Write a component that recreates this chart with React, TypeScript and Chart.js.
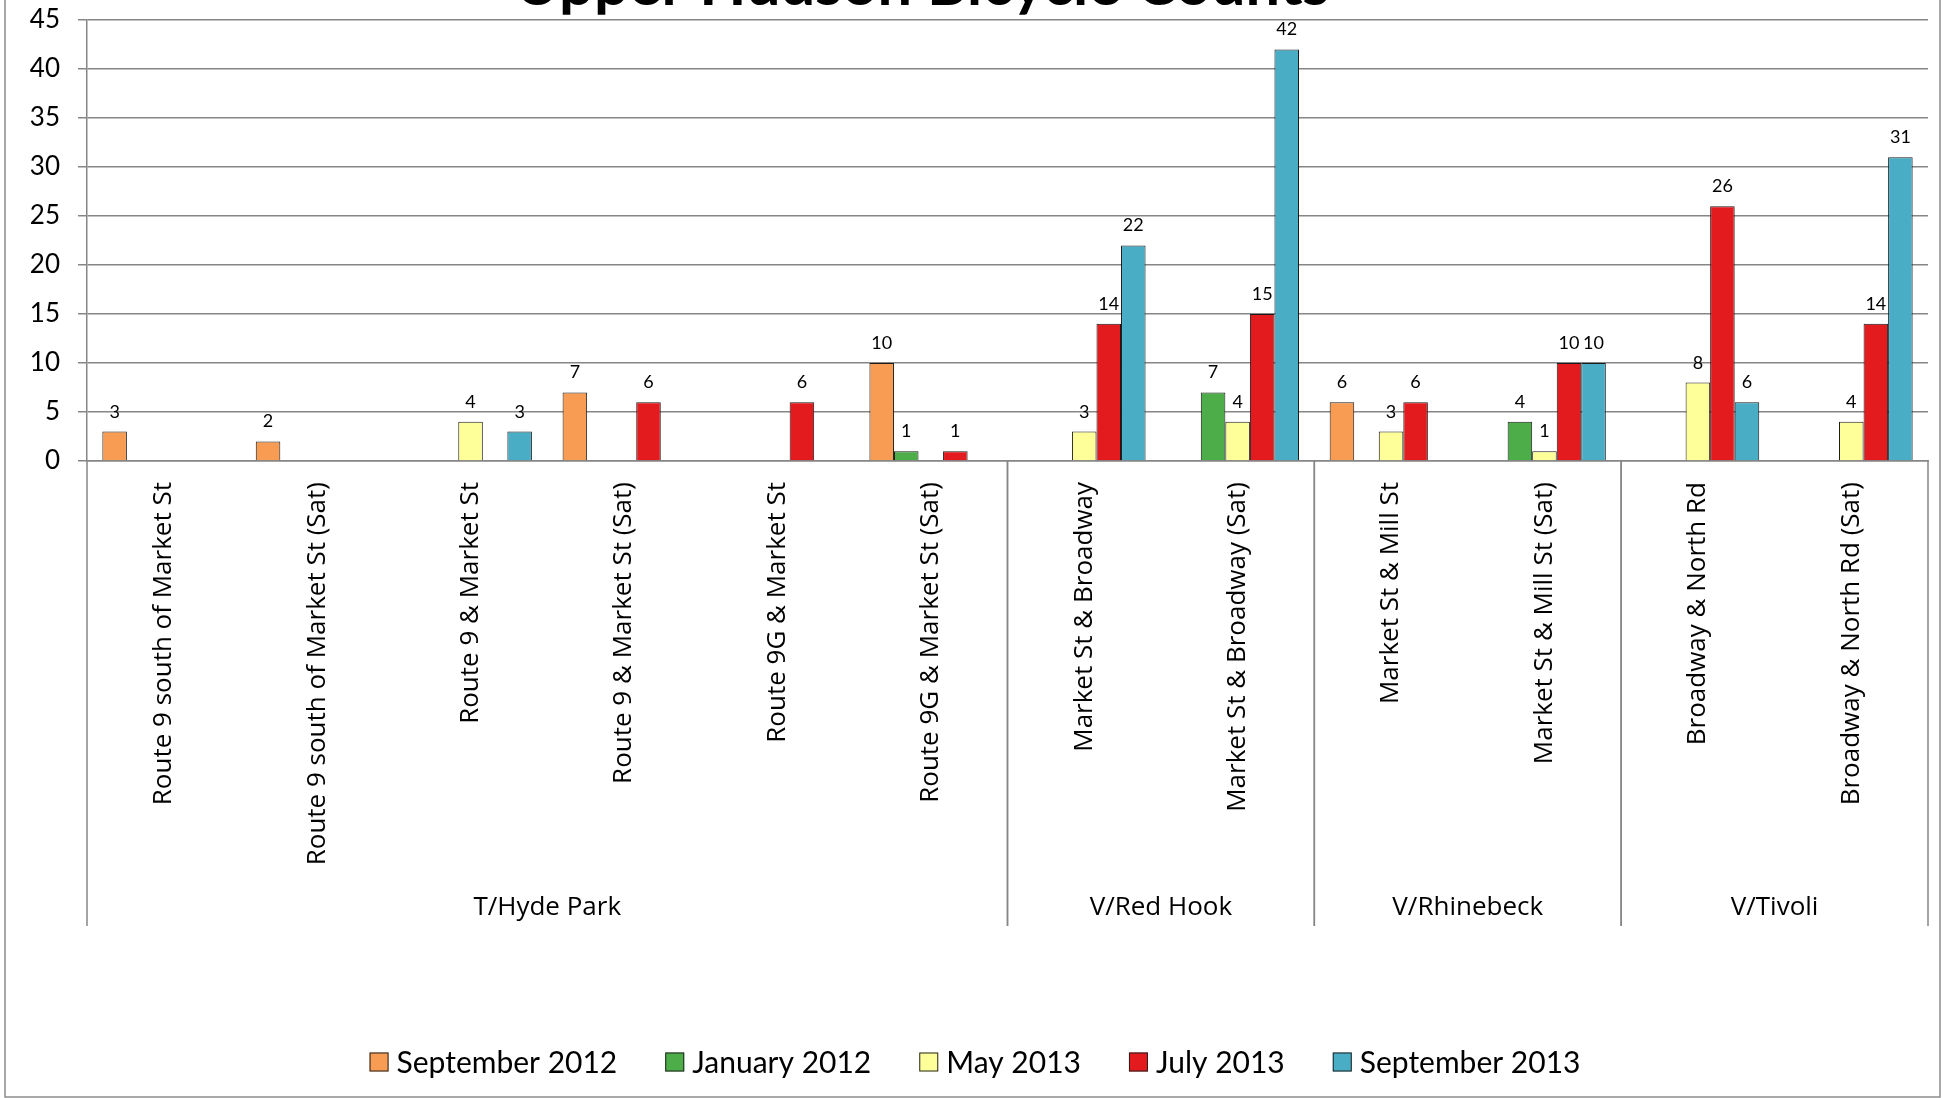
import React, { useEffect, useRef } from "react";
import { Chart, registerables } from "chart.js";

Chart.register(...registerables);

const categories = [
  "Route 9 south of Market St",
  "Route 9 south of Market St (Sat)",
  "Route 9 & Market St",
  "Route 9 & Market St (Sat)",
  "Route 9G & Market St",
  "Route 9G & Market St (Sat)",
  "Market St & Broadway",
  "Market St & Broadway (Sat)",
  "Market St & Mill St",
  "Market St & Mill St (Sat)",
  "Broadway & North Rd",
  "Broadway & North Rd (Sat)",
];
const groupNames = ["T/Hyde Park", "V/Red Hook", "V/Rhinebeck", "V/Tivoli"];
const groupSizes = [6, 2, 2, 2];

const seriesNames = ["September 2012", "January 2012", "May 2013", "July 2013", "September 2013"];
const sep2012 = [3, 2, null, 7, null, 10, null, null, 6, null, null, null];
const jan2012 = [null, null, null, null, null, 1, null, 7, null, 4, null, null];
const may2013 = [null, null, 4, null, null, null, 3, 4, 3, 1, 8, 4];
const jul2013 = [null, null, null, 6, 6, 1, 14, 15, 6, 10, 26, 14];
const sep2013 = [null, null, 3, null, null, null, 22, 42, null, 10, 6, 31];

const yMin = 0;
const yMax = 45;
const yStep = 5;

const titleText = "Upper Hudson Bicycle Counts";

const colors = ["#F79C52", "#4DAD48", "#FFFF99", "#E31B1F", "#4AADC6"];

const GRID = "#868686";
const LABEL_FONT = "Lato, 'Open Sans', sans-serif";
const CAT_FONT = "'Open Sans', sans-serif";

const overlayPlugin = {
  id: "overlay",
  afterDraw(chart: any) {
    const ctx = chart.ctx;
    const xs = chart.scales.x;
    const area = chart.chartArea;
    ctx.save();

    // data labels
    ctx.fillStyle = "#000";
    ctx.font = `18px ${LABEL_FONT}`;
    ctx.textAlign = "center";
    ctx.textBaseline = "alphabetic";
    chart.data.datasets.forEach((ds: any, di: number) => {
      const meta = chart.getDatasetMeta(di);
      meta.data.forEach((el: any, i: number) => {
        const v = ds.data[i];
        if (v === null || v === undefined) return;
        ctx.fillText(String(v), el.x, el.y - 14);
      });
    });

    // group separators and labels
    const sepBottom = 926;
    ctx.strokeStyle = GRID;
    ctx.lineWidth = 1.5;
    let start = 0;
    const boundaryX = (idx: number) => {
      if (idx <= 0) return area.left;
      if (idx >= categories.length) return area.right;
      return (xs.getPixelForValue(idx - 1) + xs.getPixelForValue(idx)) / 2;
    };
    ctx.font = `26px ${CAT_FONT}`;
    ctx.textBaseline = "middle";
    ctx.textAlign = "center";
    ctx.fillStyle = "#000";
    groupNames.forEach((g, gi) => {
      const x0 = boundaryX(start);
      const x1 = boundaryX(start + groupSizes[gi]);
      ctx.beginPath();
      ctx.moveTo(x0, area.bottom);
      ctx.lineTo(x0, sepBottom);
      ctx.moveTo(x1, area.bottom);
      ctx.lineTo(x1, sepBottom);
      ctx.stroke();
      ctx.fillText(g, (x0 + x1) / 2, 908);
      start += groupSizes[gi];
    });

    // legend
    ctx.font = `30px ${LABEL_FONT}`;
    const box = 19;
    const gapText = 8;
    const gapItem = 48;
    const widths = chart.data.datasets.map((d: any) => ctx.measureText(d.label).width);
    const total =
      widths.reduce((a: number, b: number) => a + b, 0) +
      widths.length * (box + gapText) +
      (widths.length - 1) * gapItem;
    let lx = 975 - total / 2;
    const ly = 1062;
    ctx.textAlign = "left";
    ctx.textBaseline = "middle";
    chart.data.datasets.forEach((d: any, i: number) => {
      ctx.fillStyle = d.backgroundColor;
      ctx.fillRect(lx, ly - box / 2, box, box);
      ctx.strokeStyle = "#222";
      ctx.lineWidth = 1;
      ctx.strokeRect(lx + 0.5, ly - box / 2 + 0.5, box - 1, box - 1);
      ctx.fillStyle = "#000";
      ctx.fillText(d.label, lx + box + gapText, ly + 1);
      lx += box + gapText + widths[i] + gapItem;
    });

    // title (partially cut off at the top)
    ctx.font = `bold 100px ${LABEL_FONT}`;
    const tw = ctx.measureText(titleText).width;
    const ts = (100 * 815) / tw;
    ctx.font = `bold ${ts}px ${LABEL_FONT}`;
    ctx.textAlign = "center";
    ctx.textBaseline = "alphabetic";
    ctx.fillStyle = "#000";
    ctx.fillText(titleText, 922, 5);

    // outer frame
    ctx.strokeStyle = "#8c8c8c";
    ctx.lineWidth = 1.5;
    ctx.strokeRect(5, -10, 1935, 1107);

    ctx.restore();
  },
};

export default function App() {
  const ref = useRef<HTMLCanvasElement | null>(null);
  useEffect(() => {
    if (!ref.current) return;
    const series = [sep2012, jan2012, may2013, jul2013, sep2013];
    const chart = new Chart(ref.current, {
      type: "bar",
      data: {
        labels: categories,
        datasets: series.map((d, i) => ({
          label: seriesNames[i],
          data: d,
          backgroundColor: colors[i],
          borderColor: "#1a1a1a",
          borderWidth: 1,
          categoryPercentage: 0.8,
          barPercentage: 1.0,
        })),
      },
      options: {
        responsive: false,
        animation: false,
        layout: { padding: { top: 20, right: 16, left: 0, bottom: 0 } },
        plugins: {
          legend: { display: false },
          title: { display: false },
          tooltip: { enabled: false },
        },
        scales: {
          x: {
            grid: { display: false, drawTicks: false },
            border: { display: true, color: GRID, width: 1.5 },
            ticks: {
              autoSkip: false,
              maxRotation: 90,
              minRotation: 90,
              padding: 21,
              color: "#000",
              font: { family: CAT_FONT, size: 26 },
            },
            afterFit(scale: any) {
              scale.height = 637;
              scale.paddingLeft = 0;
              scale.paddingRight = 0;
            },
          },
          y: {
            min: yMin,
            max: yMax,
            ticks: {
              stepSize: yStep,
              padding: 18,
              color: "#000",
              font: { family: LABEL_FONT, size: 26 },
            },
            grid: { color: GRID, lineWidth: 1.5, tickLength: 9 },
            border: { display: true, color: GRID, width: 1.5 },
            afterFit(scale: any) {
              scale.width = 87;
              scale.paddingTop = 0;
              scale.paddingBottom = 0;
            },
          },
        },
      },
      plugins: [overlayPlugin],
    });
    return () => chart.destroy();
  }, []);
  return (
    <div style={{ position: "absolute", left: 0, top: 0, width: 1944, height: 1098, background: "#fff" }}>
      <canvas ref={ref} width={1944} height={1098} style={{ display: "block", width: 1944, height: 1098 }} />
    </div>
  );
}
